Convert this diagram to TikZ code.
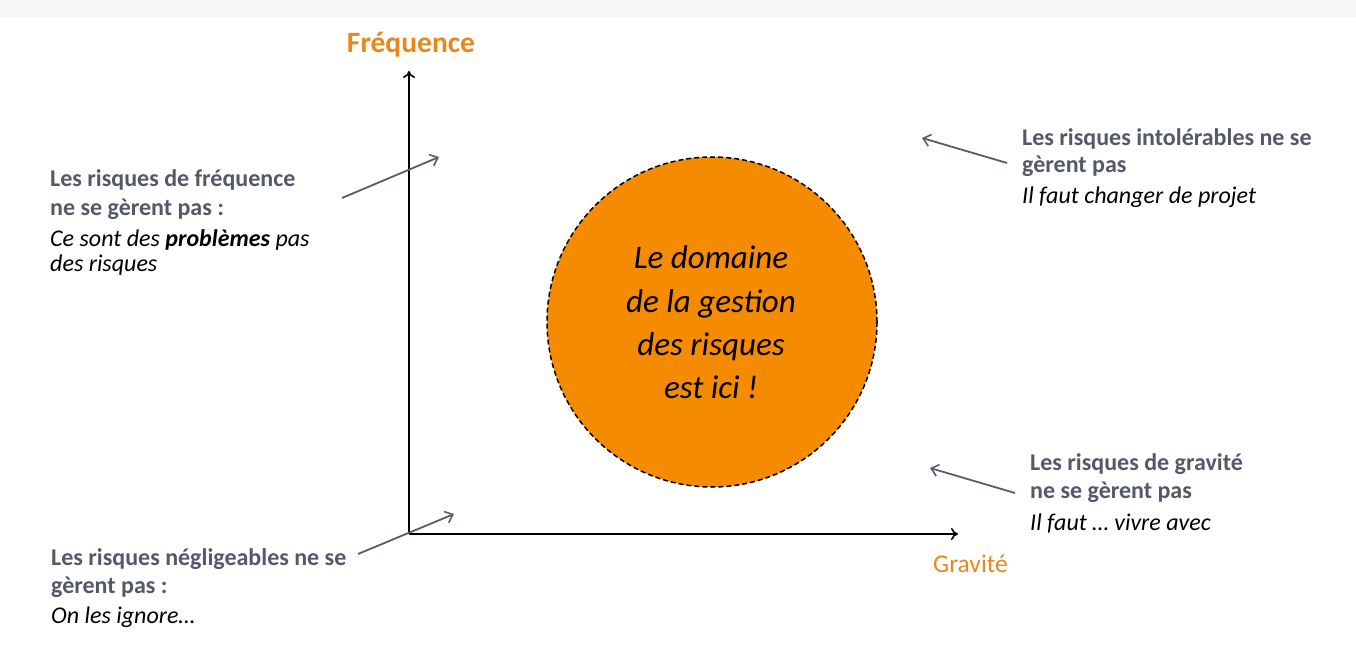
\documentclass[tikz,border=0pt]{standalone}
\usepackage{fontspec}
\setmainfont{Carlito}
\usetikzlibrary{arrows.meta}
\definecolor{circorange}{RGB}{245,139,0}
\definecolor{axorange}{RGB}{232,136,28}
\definecolor{labgrey}{RGB}{84,89,104}
\definecolor{arrgrey}{RGB}{88,93,108}
\tikzset{
  lbl/.style={anchor=base west, inner sep=0pt, text=labgrey, font=\fontsize{24}{28}\selectfont\bfseries},
  sub/.style={anchor=base west, inner sep=0pt, text=black, font=\fontsize{24}{28}\selectfont\itshape},
  ctext/.style={anchor=base, inner sep=0pt, text=black, font=\fontsize{33}{38}\selectfont\itshape},
  axis/.style={line width=1.8pt, -{To[length=7pt,width=12pt,line width=1.6pt]}},
  pointer/.style={line width=1.8pt, draw=arrgrey, -{Straight Barb[length=7pt,width=12pt,line width=1.6pt]}},
}
\begin{document}
\begin{tikzpicture}[x=1pt,y=-1pt]
\useasboundingbox (0,0) rectangle (1356,671);
\fill[white] (0,0) rectangle (1356,671);
\fill[black!3] (0,0) rectangle (1356,17);
% circle
\node[circle, minimum size=330pt, inner sep=0pt, fill=circorange, draw=black, line width=1.5pt, dash pattern=on 5pt off 3pt] (dom) at (712,322) {};
\node[ctext] (c1) at (711,268) {Le domaine};
\node[ctext] (c2) at (711,312) {de la gestion};
\node[ctext] (c3) at (711,355) {des risques};
\node[ctext] (c4) at (711,398) {est ici !};
% axes
\coordinate (o) at (409,534);
\coordinate (ytop) at (409,71);
\coordinate (xend) at (958,534);
\draw[axis] (o) -- (ytop);
\draw[axis] (o) -- (xend);
\node[anchor=base, inner sep=0pt, text=axorange, font=\fontsize{29.5}{34}\selectfont\bfseries] (freq) at (411,53) {Fréquence};
\node[anchor=base west, inner sep=0pt, text=axorange, font=\fontsize{25.5}{30}\selectfont] (grav) at (933,572) {Gravité};
% block A
\node[lbl] (a1) at (50,186) {Les risques de fréquence};
\node[lbl] (a2) at (50,215) {ne se gèrent pas :};
\node[sub] (a3) at (50,246) {Ce sont des \textbf{problèmes} pas};
\node[sub] (a4) at (50,271) {des risques};
% block B
\node[lbl] (b1) at (1022,146) {Les risques intolérables ne se};
\node[lbl] (b2) at (1022,173) {gèrent pas};
\node[sub] (b3) at (1022,203) {Il faut changer de projet};
% block C
\node[lbl] (g1) at (1030,470) {Les risques de gravité};
\node[lbl] (g2) at (1030,498) {ne se gèrent pas};
\node[sub] (g3) at (1030,530) {Il faut … vivre avec};
% block D
\node[lbl] (d1) at (51,565) {Les risques négligeables ne se};
\node[lbl] (d2) at (51,593) {gèrent pas :};
\node[sub] (d3) at (51,623) {On les ignore…};
% pointers
\coordinate (pa0) at (342,198); \coordinate (pa1) at (439,157);
\coordinate (pb0) at (1007,163); \coordinate (pb1) at (922,138);
\coordinate (pc0) at (1015,493); \coordinate (pc1) at (930,468);
\coordinate (pd0) at (358,554); \coordinate (pd1) at (454,514);
\draw[pointer] (pa0) -- (pa1);
\draw[pointer] (pb0) -- (pb1);
\draw[pointer] (pc0) -- (pc1);
\draw[pointer] (pd0) -- (pd1);
\end{tikzpicture}
\end{document}
